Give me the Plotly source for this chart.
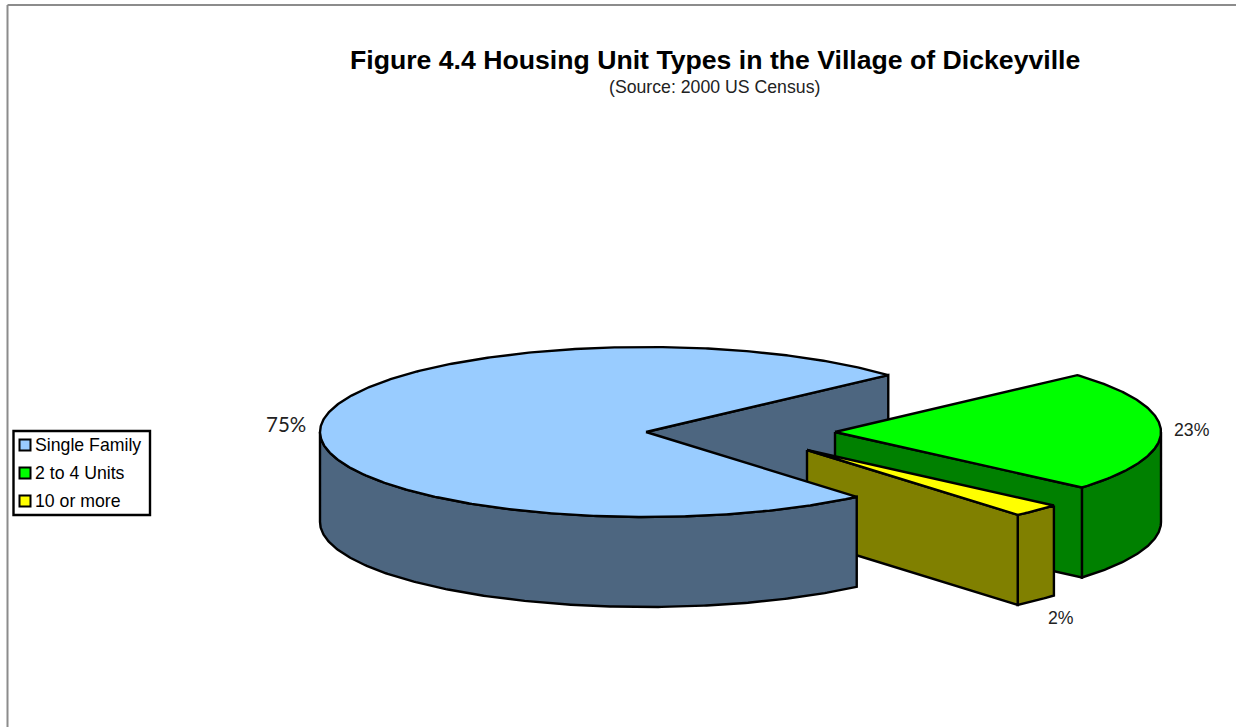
import math
import plotly.graph_objects as go

# ---- data ----
categories = ["Single Family", "2 to 4 Units", "10 or more"]
values = [74.52, 22.99, 2.49]

title_text = "Figure 4.4 Housing Unit Types in the Village of Dickeyville"
subtitle_text = "(Source: 2000 US Census)"

# ---- styles and geometry (canvas pixels) ----
W, H = 1236, 727
top_colors = ["#99CCFF", "#00FF00", "#FFFF00"]
side_colors = ["#4D6680", "#008000", "#808000"]
centers = [(646, 432), (835, 432), (807, 450)]
RX, RY, DEPTH = 326, 85, 90
START = 42.0
LINE_W = 2.4
label_pos = [(286, 424), (1192, 430), (1061, 618)]
label_fonts = [("Lato, 'Open Sans', sans-serif", 20.5, "#222222"),
               ("Liberation Sans, Arial, sans-serif", 17.7, "#222222"),
               ("Liberation Sans, Arial, sans-serif", 17.7, "#222222")]
ARIAL = "Liberation Sans, Arial, sans-serif"
BLACK = "#000000"
total = sum(values)


def pt(c, t, dz=0):
    r = math.radians(t)
    return c[0] + RX * math.cos(r), c[1] - RY * math.sin(r) + dz


def arc(c, t0, t1, dz=0):
    n = max(2, int(abs(t1 - t0) * 2) + 1)
    return [pt(c, t0 + (t1 - t0) * i / (n - 1), dz) for i in range(n)]


def poly(points, color, name):
    xs = [p[0] for p in points] + [points[0][0]]
    ys = [p[1] for p in points] + [points[0][1]]
    return go.Scatter(x=xs, y=ys, mode="lines", fill="toself", fillcolor=color,
                      line=dict(color=BLACK, width=LINE_W), name=name,
                      hoverinfo="name", showlegend=False)


# slice angles, running clockwise on screen from START
sweep = [v / total * 360 for v in values]
green_a, green_b = START, START - sweep[1]
yellow_a, yellow_b = green_b, green_b - sweep[2]
blue_a, blue_b = START, START + sweep[0]

b, g, y = centers
traces = []
# Single Family: cut face behind the other slices
traces.append(poly([b, pt(b, blue_a), pt(b, blue_a, DEPTH), (b[0], b[1] + DEPTH)], side_colors[0], categories[0]))
# 2 to 4 Units
traces.append(poly(arc(g, 0, green_b) + arc(g, green_b, 0, DEPTH), side_colors[1], categories[1]))
traces.append(poly([g, pt(g, green_b), pt(g, green_b, DEPTH), (g[0], g[1] + DEPTH)], side_colors[1], categories[1]))
traces.append(poly([g] + arc(g, green_a, green_b), top_colors[1], categories[1]))
# 10 or more
traces.append(poly(arc(y, yellow_a, yellow_b) + arc(y, yellow_b, yellow_a, DEPTH), side_colors[2], categories[2]))
traces.append(poly([y, pt(y, yellow_b), pt(y, yellow_b, DEPTH), (y[0], y[1] + DEPTH)], side_colors[2], categories[2]))
traces.append(poly([y] + arc(y, yellow_a, yellow_b), top_colors[2], categories[2]))
# Single Family: outer wall and top
traces.append(poly(arc(b, 180, blue_b) + arc(b, blue_b, 180, DEPTH), side_colors[0], categories[0]))
traces.append(poly([b] + arc(b, blue_a, blue_b), top_colors[0], categories[0]))

# hand-placed legend keys
legend_x = 25
legend_ys = [445, 473, 501]
traces.append(go.Scatter(x=[legend_x] * 3, y=legend_ys, mode="markers",
                         marker=dict(symbol="square", size=11, color=top_colors,
                                     line=dict(color=BLACK, width=2)),
                         hoverinfo="skip", showlegend=False))

fig = go.Figure(traces)

ann = [
    dict(x=714.5, y=60, text=f"<b>{title_text}</b>", font=dict(family=ARIAL, size=26.65, color=BLACK)),
    dict(x=714, y=87, text=subtitle_text, font=dict(family=ARIAL, size=17.7, color="#222222")),
]
for cat, ly in zip(categories, legend_ys):
    ann.append(dict(x=33, y=ly, text=cat, xanchor="left", font=dict(family=ARIAL, size=17.7, color=BLACK)))
for v, (lx, ly), (fam, sz, col) in zip(values, label_pos, label_fonts):
    ann.append(dict(x=lx, y=ly, text=f"{round(v / total * 100)}%", font=dict(family=fam, size=sz, color=col)))
for a in ann:
    a.update(xref="x", yref="y", showarrow=False)
    a.setdefault("xanchor", "center")
    a.setdefault("yanchor", "middle")

fig.update_layout(
    width=W, height=H, margin=dict(l=0, r=0, t=0, b=0),
    paper_bgcolor="white", plot_bgcolor="white", showlegend=False,
    xaxis=dict(range=[0, W], visible=False, fixedrange=True),
    yaxis=dict(range=[H, 0], visible=False, fixedrange=True),
    annotations=ann,
    shapes=[
        dict(type="line", x0=7.5, x1=W, y0=5, y1=5, line=dict(color="#8C8C8C", width=2), layer="below"),
        dict(type="line", x0=7.5, x1=7.5, y0=5, y1=H, line=dict(color="#8C8C8C", width=2), layer="below"),
        dict(type="rect", x0=13.5, x1=150, y0=431, y1=515, line=dict(color=BLACK, width=2.4), layer="below"),
    ],
)
fig.write_html("out.html", config={"displayModeBar": False},
               post_script="document.body.style.margin='0';document.body.style.overflow='hidden';")
